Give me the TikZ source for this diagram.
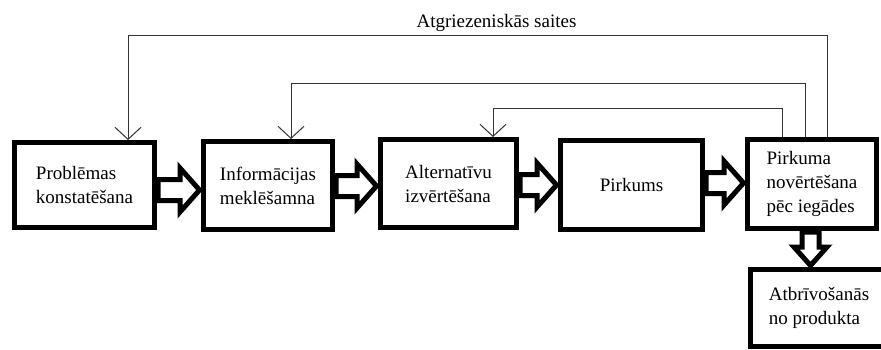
\documentclass[tikz,border=0pt]{standalone}
\usepackage{fontspec}
\setmainfont{Liberation Serif}
\newfontfamily\tnr{Liberation Serif}
\usetikzlibrary{arrows.meta,calc}
\newcommand{\harrow}[3]{%
  \draw[blk] let \p1=(#1.east), \p2=(#2.west), \n1={\y1-(#3pt)} in
    ({\x1+1pt}, {\n1+10.5pt}) -- ({\x2-21pt}, {\n1+10.5pt}) -- ({\x2-21pt}, {\n1+22pt})
    -- ({\x2-1.5pt}, {\n1}) -- ({\x2-21pt}, {\n1-22pt}) -- ({\x2-21pt}, {\n1-10.5pt})
    -- ({\x1+1pt}, {\n1-10.5pt}) -- cycle;}
\begin{document}
\begin{tikzpicture}[x=1pt,y=-1pt,
  txt/.style={font=\tnr\fontsize{19}{24}\selectfont},
  box/.style={draw, line width=5pt, align=left, inner sep=0pt, txt},
  fb/.style={draw=black!80, line width=1pt, -{Straight Barb[length=12pt,width=26pt]}},
  blk/.style={draw, fill=white, line width=5pt, line join=miter}]
\useasboundingbox (0,0) rectangle (881,349);
\fill[white] (0,0) rectangle (881,349);
\node[box, minimum width=140pt, minimum height=85pt] (b1) at (84.5,185) {Problēmas\\konstatēšana};
\node[box, minimum width=129pt, minimum height=88pt] (b2) at (268,185.5) {Informācijas\\meklēšamna};
\node[box, minimum width=136pt, minimum height=88pt] (b3) at (448.5,183.5) {Alternatīvu\\izvērtēšana};
\node[box, minimum width=142pt, minimum height=89pt] (b4) at (631.5,185) {Pirkums};
\node[box, minimum width=129pt, minimum height=89pt] (b5) at (812,184) {Pirkuma\\novērtēšana\\pēc iegādes};
\node[box, minimum width=137pt, minimum height=77pt] (b6) at (819,308) {Atbrīvošanās\\no produkta};
\harrow{b1}{b2}{5}
\harrow{b2}{b3}{0.5}
\harrow{b3}{b4}{1.5}
\harrow{b4}{b5}{-2}
\draw[blk] let \p1=(b5.south), \p2=(b6.north) in
  ({\x1-10pt}, {\y1-1pt}) -- ({\x1-10pt}, {\y2+20pt}) -- ({\x1-18pt}, {\y2+20pt}) -- ({\x1-1.5pt}, {\y2+1.5pt})
  -- ({\x1+15pt}, {\y2+20pt}) -- ({\x1+7pt}, {\y2+20pt}) -- ({\x1+7pt}, {\y1-1pt}) -- cycle;
\coordinate (t1) at (827,35); \coordinate (h1) at (128,35);
\coordinate (t2) at (805,83); \coordinate (h2) at (291,83);
\coordinate (t3) at (782,108); \coordinate (h3) at (493,108);
\draw[fb] (t1 |- b5.north) -- (t1) -- (h1) -- (h1 |- b1.north);
\draw[fb] (t2 |- b5.north) -- (t2) -- (h2) -- (h2 |- b2.north);
\draw[fb] (t3 |- b5.north) -- (t3) -- (h3) -- (h3 |- b3.north);
\node[txt, anchor=base] (lbl) at (496.5,27) {Atgriezeniskās saites};
\end{tikzpicture}
\end{document}
